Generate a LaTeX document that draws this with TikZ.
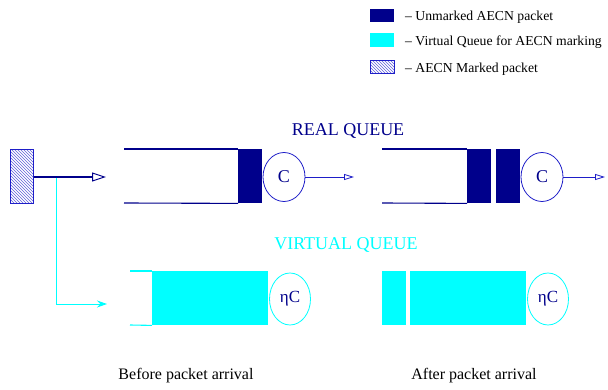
\documentclass[tikz,border=0pt]{standalone}
\usepackage{fontspec}
\setmainfont{Liberation Serif}
\usetikzlibrary{arrows.meta,patterns,shapes.geometric}
\definecolor{navyq}{RGB}{0,0,139}
\definecolor{cyanq}{RGB}{0,255,255}
\definecolor{blueln}{RGB}{30,30,200}
\begin{document}
\begin{tikzpicture}[x=1pt,y=-1pt,
  blk/.style={fill=navyq, inner sep=0, anchor=north west, minimum height=54pt},
  vfill/.style={fill=cyanq, inner sep=0, anchor=north west, minimum height=54pt},
  gap/.style={fill=white, inner sep=0, anchor=north west, minimum height=54pt},
  qline/.style={navyq, line width=1.1pt},
  vline/.style={cyanq, line width=1.1pt},
  server/.style={ellipse, draw=blueln, line width=0.8pt, minimum width=42pt, minimum height=49pt, inner sep=0, text=navyq, font=\fontsize{18}{18}\selectfont},
  vserver/.style={ellipse, draw=cyanq, line width=0.8pt, minimum width=41pt, minimum height=52pt, inner sep=0, text=navyq, font=\fontsize{17}{17}\selectfont},
  outarr/.style={blueln, line width=0.8pt, -{Triangle[open, length=10pt, width=6pt]}},
  legtxt/.style={anchor=base west, inner sep=0, font=\fontsize{13.7}{14}\selectfont},
  title/.style={anchor=base, inner sep=0, font=\fontsize{18}{18}\selectfont},
  caption/.style={anchor=base, inner sep=0, font=\fontsize{16}{16}\selectfont}
]
\useasboundingbox (0,0) rectangle (608,390);

% legend
\node[fill=navyq, inner sep=0, minimum width=24pt, minimum height=13pt, anchor=north west] (lg1) at (370,9) {};
\node[legtxt] (lt1) at (405,21) {– Unmarked AECN packet};
\node[fill=cyanq, inner sep=0, minimum width=24pt, minimum height=14pt, anchor=north west] (lg2) at (370,33) {};
\node[legtxt] (lt2) at (405,46) {– Virtual Queue for AECN marking};
\node[draw=blueln, line width=0.6pt, pattern=north west lines, pattern color=blueln!70, inner sep=0, minimum width=24pt, minimum height=13pt, anchor=north west] (lg3) at (370,60) {};
\node[legtxt] (lt3) at (405,73) {– AECN Marked packet};

% titles
\node[title, text=navyq] (rqt) at (348,136) {REAL QUEUE};
\node[title, text=cyanq] (vqt) at (346,250) {VIRTUAL QUEUE};

% source
\node[draw=blueln, line width=0.8pt, pattern=north west lines, pattern color=blueln!70, inner sep=0, minimum width=23pt, minimum height=54pt, anchor=north west] (src) at (10,149) {};
\coordinate (srcout) at (106,177);
\coordinate (br) at (56,177);
\coordinate (brd) at (56,304);
\coordinate (vout) at (107,304);
\draw[cyanq, line width=0.9pt, -{Stealth[length=10pt, width=7pt]}] (br) -- (brd) -- (vout);
\draw[navyq, line width=2.6pt, -{Triangle[open, length=14pt, width=9pt, line width=1pt]}] (src.east |- srcout) -- (srcout);

% real queue 1
\coordinate (rq1l) at (124,149);
\coordinate (rq1lb) at (124,203);
\node[blk, minimum width=24pt] (rq1b) at (238,149) {};
\draw[qline] (rq1l) -- (rq1b.north west);
\draw[qline] (rq1lb) -- (rq1b.south west);
\node[server] (c1) at (284,177) {C};
\coordinate (c1o) at (354,177);
\draw[outarr] (c1.east) -- (c1o);

% real queue 2
\coordinate (rq2l) at (382,149);
\coordinate (rq2lb) at (382,203);
\node[blk, minimum width=24pt] (rq2a) at (467,149) {};
\node[blk, minimum width=24pt] (rq2b) at (496,149) {};
\draw[qline] (rq2l) -- (rq2a.north west);
\draw[qline] (rq2lb) -- (rq2a.south west);
\node[server] (c2) at (542,177) {C};
\coordinate (c2o) at (605,177);
\draw[outarr] (c2.east) -- (c2o);

% virtual queue 1
\coordinate (vq1l) at (130,271);
\coordinate (vq1lb) at (130,325);
\node[vfill, minimum width=116pt] (vq1) at (152,271) {};
\draw[vline] (vq1l) -- (vq1.north west);
\draw[vline] (vq1lb) -- (vq1.south west);
\node[vserver] (e1) at (290,299) {ηC};

% virtual queue 2
\node[vfill, minimum width=144pt] (vq2) at (382,271) {};
\node[gap, minimum width=4pt] (vq2g) at (406,271) {};
\node[vserver] (e2) at (548,299) {ηC};

% captions
\node[caption] (cap1) at (186,379) {Before packet arrival};
\node[caption] (cap2) at (474,379) {After packet arrival};
\end{tikzpicture}
\end{document}
